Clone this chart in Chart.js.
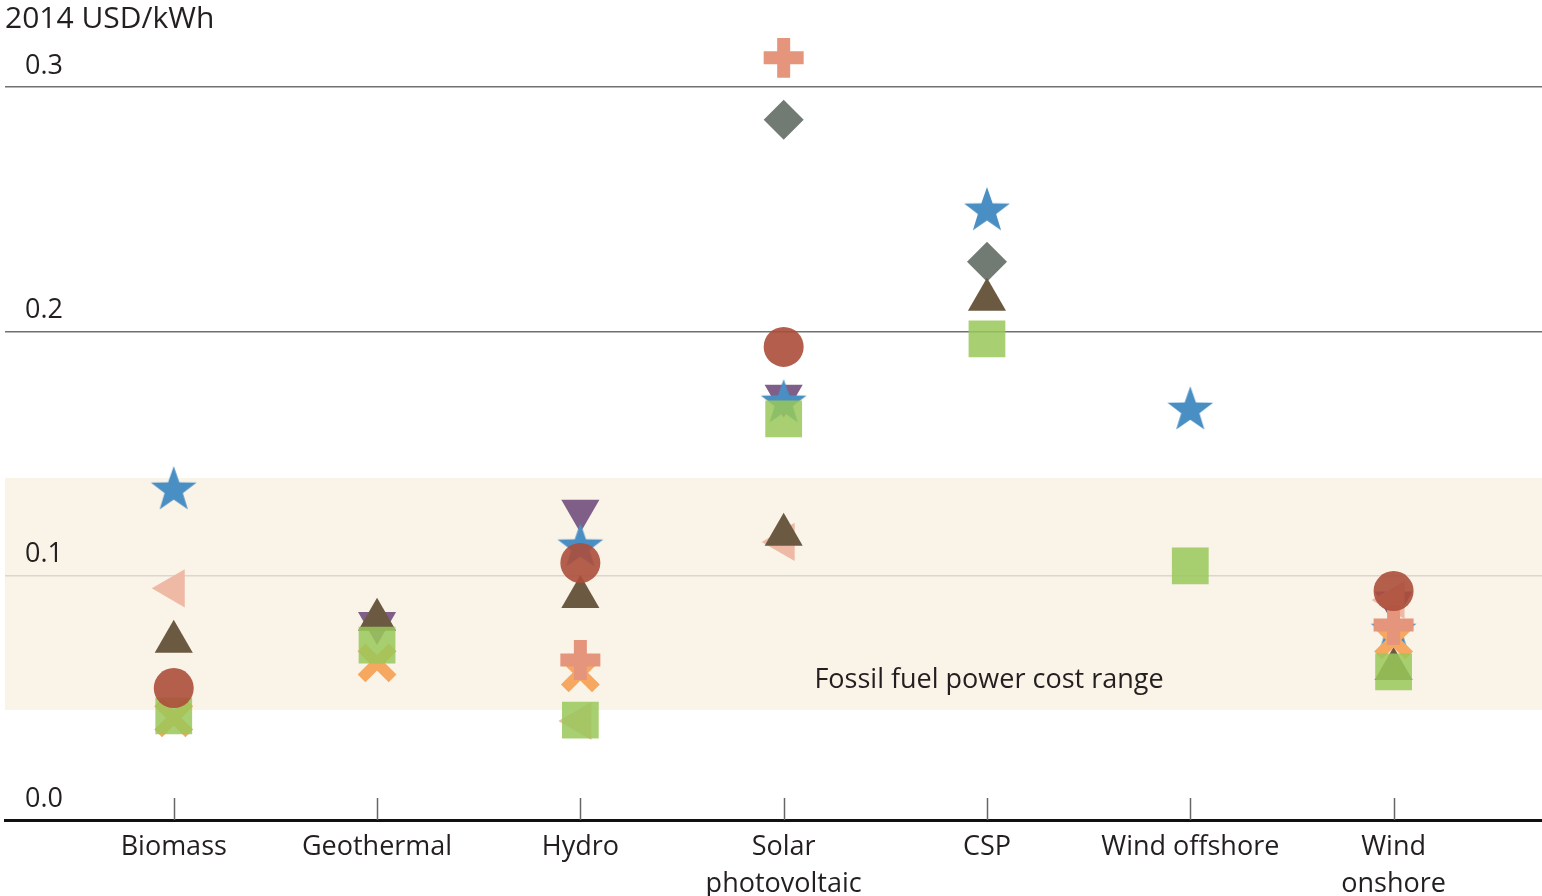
<!DOCTYPE html>
<html>
<head>
<meta charset="utf-8">
<title>Levelised cost of electricity by technology</title>
<script src="https://cdn.jsdelivr.net/npm/chart.js@4.4.1/dist/chart.umd.min.js"></script>
<style>
  html, body { margin: 0; padding: 0; background: #fff; }
  #wrap { width: 1542px; height: 896px; }
</style>
</head>
<body>
<div id="wrap"><canvas id="chart" width="1542" height="896"></canvas></div>
<script>
// ---------- DATA ----------
const categories = ["Biomass", "Geothermal", "Hydro", ["Solar", "photovoltaic"], "CSP", "Wind offshore", ["Wind", "onshore"]];
const yTicks = [0, 0.1, 0.2, 0.3];
const fossilRange = [0.045, 0.14];
const fossilLabel = "Fossil fuel power cost range";

// one value per category (null = no marker)
const starVals     = [0.1355, null,   0.1122, 0.1711, 0.2497, 0.1682, 0.0778];
const leftTriVals  = [0.0948, null,   0.0405, 0.1138, null,   null,   0.0900];
const triVals      = [0.0729, 0.0819, 0.0913, 0.1167, 0.2129, null,   0.0618];
const circleVals   = [0.0540, null,   0.1052, 0.1936, null,   null,   0.0937];
const squareVals   = [0.0426, 0.0716, 0.0409, 0.1641, 0.1969, 0.1040, 0.0606];
const xVals        = [0.0418, 0.0643, 0.0602, null,   null,   null,   0.0737];
const downTriVals  = [null,   0.0806, 0.1265, 0.1736, null,   null,   0.0890];
const plusVals     = [null,   null,   0.0655, 0.3119, null,   null,   0.0798];
const diamondVals  = [null,   null,   null,   0.2865, 0.2284, null,   null];

const FONT = "'Open Sans', 'DejaVu Sans', sans-serif";
const TEXT = "#231f20";

// ---------- HELPERS ----------
function toPoints(vals) {
  return vals.map((v, i) => (v === null ? null : { x: i, y: v })).filter(p => p);
}

// filled five-point star used as a point image
function makeStar(color, R) {
  const c = document.createElement("canvas");
  const s = Math.ceil(R * 2 + 2);
  c.width = s; c.height = s;
  const g = c.getContext("2d");
  const cx = s / 2, cy = s / 2 + R * 0.05, r = R * 0.4;
  g.beginPath();
  for (let k = 0; k < 10; k++) {
    const rad = (k % 2 === 0) ? R : r;
    const a = -Math.PI / 2 + k * Math.PI / 5;
    g.lineTo(cx + Math.cos(a) * rad, cy + Math.sin(a) * rad);
  }
  g.closePath();
  g.fillStyle = color;
  g.fill();
  return c;
}

function serie(label, vals, style, color, extra) {
  return Object.assign({
    label,
    data: toPoints(vals),
    pointStyle: style,
    pointRadius: 20,
    pointHoverRadius: 20,
    backgroundColor: color,
    borderColor: color,
    borderWidth: 0,
    showLine: false
  }, extra);
}

const datasets = [
  serie("Series circle",   circleVals,  "circle",   "rgba(172,78,59,0.9)",  { order: 1 }),
  serie("Series square",   squareVals,  "rect",     "rgba(153,200,89,0.85)", { pointRadius: 26, pointHoverRadius: 26, order: 2 }),
  serie("Series plus",     plusVals,    "cross",    "#e6957d", { borderWidth: 13, order: 3 }),
  serie("Series x",        xVals,       "crossRot", "#f6a760", { pointRadius: 22, pointHoverRadius: 22, borderWidth: 11, order: 4 }),
  serie("Series star",     starVals,    makeStar("#4a8fc3", 24), "#4a8fc3", { order: 5 }),
  serie("Series triangle", triVals,     "triangle", "#6b5a41", { pointRadius: 22, pointHoverRadius: 22, order: 6 }),
  serie("Series left",     leftTriVals, "triangle", "#eebaa6", { pointRadius: 22, pointHoverRadius: 22, pointRotation: -90, order: 7 }),
  serie("Series down",     downTriVals, "triangle", "#7f5f87", { pointRadius: 22, pointHoverRadius: 22, pointRotation: 180, order: 8 }),
  serie("Series diamond",  diamondVals, "rectRot",  "#727a74", { order: 9 })
];

// ---------- PLUGINS ----------
const fossilBand = {
  id: "fossilBand",
  beforeDraw(chart) {
    const { ctx, chartArea: a, scales: { y } } = chart;
    const top = y.getPixelForValue(fossilRange[1]);
    const bot = y.getPixelForValue(fossilRange[0]);
    ctx.save();
    ctx.fillStyle = "#faf3e8";
    ctx.fillRect(a.left, top, a.right - a.left, bot - top);
    ctx.restore();
  },
  beforeDatasetsDraw(chart) {
    const { ctx, scales: { x, y } } = chart;
    ctx.save();
    ctx.font = "27px " + FONT;
    ctx.fillStyle = TEXT;
    ctx.textAlign = "center";
    ctx.textBaseline = "middle";
    ctx.fillText(fossilLabel, x.getPixelForValue(4.01), y.getPixelForValue(0.057));
    ctx.restore();
  }
};

// short tick marks pointing up from the x axis
const innerTicks = {
  id: "innerTicks",
  afterDraw(chart) {
    const { ctx, chartArea: a, scales: { x } } = chart;
    ctx.save();
    ctx.strokeStyle = "#666";
    ctx.lineWidth = 1.5;
    x.ticks.forEach(t => {
      const px = Math.round(x.getPixelForValue(t.value)) + 0.5;
      ctx.beginPath();
      ctx.moveTo(px, a.bottom - 22);
      ctx.lineTo(px, a.bottom);
      ctx.stroke();
    });
    ctx.restore();
  }
};

// ---------- CHART ----------
new Chart(document.getElementById("chart"), {
  type: "scatter",
  data: { datasets },
  options: {
    responsive: false,
    animation: false,
    events: [],
    layout: { autoPadding: false, padding: { left: 5, right: 0, top: 0, bottom: 0 } },
    plugins: {
      legend: { display: false },
      tooltip: { enabled: false },
      title: {
        display: true,
        text: "2014 USD/kWh",
        align: "start",
        color: TEXT,
        font: { family: FONT, size: 30, weight: "normal", lineHeight: 1.1 },
        padding: { top: 3, bottom: 2 }
      }
    },
    scales: {
      x: {
        type: "linear",
        min: -0.83,
        max: 6.73,
        afterBuildTicks: s => { s.ticks = categories.map((c, i) => ({ value: i })); },
        afterFit: s => { s.height = 76; },
        grid: { display: false, drawTicks: false },
        border: { display: true, color: "#111", width: 3 },
        ticks: {
          autoSkip: false,
          maxRotation: 0,
          padding: 9,
          color: TEXT,
          font: { family: FONT, size: 27, lineHeight: 1.37 },
          callback: v => categories[v]
        }
      },
      y: {
        type: "linear",
        min: 0,
        max: 0.32,
        afterBuildTicks: s => { s.ticks = yTicks.map(v => ({ value: v })); },
        afterFit: s => { s.width = 0; },
        border: { display: false },
        grid: {
          drawTicks: false,
          lineWidth: 1.5,
          color: c => c.tick.value === 0 ? "rgba(0,0,0,0)" : (Math.abs(c.tick.value - 0.1) < 1e-6 ? "#dcd6cc" : "#707070")
        },
        ticks: {
          mirror: true,
          padding: 20,
          labelOffset: -21,
          color: TEXT,
          font: { family: FONT, size: 27 },
          callback: v => v.toFixed(1)
        }
      }
    }
  },
  plugins: [fossilBand, innerTicks]
});
</script>
</body>
</html>
